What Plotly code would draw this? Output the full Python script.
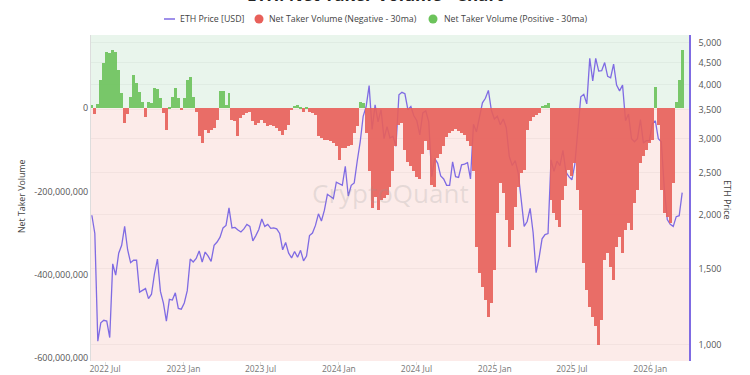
import plotly.graph_objects as go
import pandas as pd

# ---------------- data ----------------
start_date = "2022-05-31"
n_weeks = 199
dates = pd.date_range(start_date, periods=n_weeks, freq="7D")

# Net taker volume (30ma), millions
net_taker_volume_m = [
    8, -15, 10, 68, 108, 136, 132, 139, 134, 92,
    36, -35, -15, 28, 80, 60, 40, 16, -20, 16,
    12, 48, 46, 24, -12, -52, 2, 28, 48, 24,
    -4, 24, 68, 76, 28, -10, -68, -84, -52, -60,
    -52, -48, -28, 42, 42, 8, 36, -28, -32, -68,
    -24, -16, -12, -8, -32, -40, -36, -28, -36, -44,
    -40, -44, -48, -56, -64, -52, -40, -4, 5, 8,
    4, -8, 4, -8, -12, -16, -68, -72, -76, -76,
    -80, -84, -92, -124, -96, -96, -92, -88, -60, -44,
    16, 12, -60, -150, -240, -213, -245, -221, -217, -209,
    -189, -150, -90, -40, -35, -100, -130, -140, -150, -165,
    -170, -110, -80, -100, -185, -190, -120, -110, -90, -70,
    -60, -55, -50, -55, -60, -65, -80, -90, -150, -333,
    -397, -430, -461, -501, -469, -389, -253, -181, -205, -269,
    -333, -293, -237, -189, -156, -148, -52, -32, -20, -16,
    -12, 5, 8, 12, -221, -253, -269, -285, -221, -188,
    -148, -164, -132, -196, -245, -373, -437, -477, -501, -525,
    -570, -509, -365, -349, -381, -413, -333, -309, -349, -293,
    -277, -293, -229, -196, -132, -116, -100, -84, -76, 52,
    -40, -197, -253, -261, -277, -180, 16, 68, 140,
]

# ETH price (USD)
eth_price = [
    1995, 1810, 1020, 1125, 1140, 1135, 1040, 1540, 1450, 1630,
    1700, 1880, 1660, 1550, 1570, 1570, 1325, 1335, 1350, 1280,
    1310, 1460, 1580, 1330, 1250, 1135, 1275, 1270, 1320, 1215,
    1210, 1250, 1335, 1580, 1555, 1585, 1650, 1555, 1640, 1605,
    1560, 1700, 1730, 1775, 1865, 1890, 2075, 1865, 1870, 1845,
    1825, 1855, 1900, 1880, 1740, 1790, 1850, 1955, 1880, 1900,
    1860, 1865, 1855, 1810, 1660, 1725, 1630, 1590, 1645, 1595,
    1655, 1565, 1605, 1790, 1815, 1890, 2010, 1935, 2050, 2230,
    2200, 2180, 2380, 2360, 2340, 2590, 2210, 2340, 2370, 2660,
    2950, 3380, 3560, 3980, 3150, 3590, 3280, 3500, 3000, 3200,
    3010, 3040, 2880, 3790, 3840, 3810, 3500, 3560, 3390, 3300,
    3060, 3440, 3480, 3280, 2450, 2700, 2630, 2460, 2420, 2340,
    2340, 2650, 2450, 2440, 2610, 2620, 2640, 2420, 3240, 3110,
    3330, 3630, 3720, 3880, 3490, 3330, 3380, 3230, 3330, 3180,
    2730, 2600, 2670, 2500, 2170, 1880, 1930, 2070, 1820, 1470,
    1590, 1760, 1800, 1810, 2680, 2520, 2660, 2600, 2820, 2510,
    2450, 2410, 2620, 3130, 3750, 3800, 3610, 4600, 4080, 4600,
    4300, 4310, 4500, 4180, 4150, 4460, 3990, 3870, 3990, 3300,
    3420, 3000, 2950, 3000, 3320, 2930, 2970, 2970, 3250, 3300,
    3000, 2950, 2300, 1950, 1900, 1880, 1980, 1990, 2250,
]

x_tick_vals = ["2022-07-01", "2023-01-01", "2023-07-01", "2024-01-01",
               "2024-07-01", "2025-01-01", "2025-07-01", "2026-01-01"]
x_tick_text = ["2022 Jul", "2023 Jan", "2023 Jul", "2024 Jan",
               "2024 Jul", "2025 Jan", "2025 Jul", "2026 Jan"]
vol_tick_vals = [0, -200e6, -400e6, -600e6]
vol_tick_text = ["0", "-200,000,000", "-400,000,000", "-600,000,000"]
price_tick_vals = [1000, 1500, 2000, 2500, 3000, 3500, 4000, 4500, 5000]
price_tick_text = ["1,000", "1,500", "2,000", "2,500", "3,000", "3,500", "4,000", "4,500", "5,000"]

# ---------------- style ----------------
FONT = "Open Sans"
RED = "#e8605a"
GREEN = "#6cc35b"
PURPLE = "#7f6be3"
BG_POS = "#e9f5ec"
BG_NEG = "#fcebe9"

vol = [v * 1e6 for v in net_taker_volume_m]
neg = [v if v < 0 else None for v in vol]
pos = [v if v >= 0 else None for v in vol]
bar_w = 7 * 86400000

fig = go.Figure()
fig.add_trace(go.Scatter(x=dates, y=eth_price, mode="lines", name="ETH Price [USD]",
                         line=dict(color=PURPLE, width=1.3), yaxis="y", showlegend=False))
fig.add_trace(go.Bar(x=dates, y=neg, width=bar_w, marker=dict(color=RED, line=dict(width=0)),
                     opacity=0.9, name="Net Taker Volume (Negative - 30ma)", yaxis="y2", showlegend=False))
fig.add_trace(go.Bar(x=dates, y=pos, width=bar_w, marker=dict(color=GREEN, line=dict(width=0)),
                     opacity=0.9, name="Net Taker Volume (Positive - 30ma)", yaxis="y2", showlegend=False))

# plot area in page pixels: x 91..689, y 35..361 (page body margin removed)
W, H = 750, 375
L, T = 91, 35
R = W - 689
B = H - 361
PW, PH = W - L - R, H - T - B


def px(xp):
    return (xp - L) / PW


def py(yp):
    return 1 + (T - yp) / PH


shapes = [
    dict(type="rect", xref="paper", yref="y2", x0=0, x1=1, y0=0, y1=300e6,
         fillcolor=BG_POS, line=dict(width=0), layer="below"),
    # legend marks
    dict(type="line", xref="paper", yref="paper", x0=px(164), x1=px(175), y0=py(19), y1=py(19),
         line=dict(color=PURPLE, width=1.5)),
    dict(type="circle", xref="paper", yref="paper", x0=px(254.5), x1=px(263.5), y0=py(23.5), y1=py(14.5),
         fillcolor=RED, line=dict(width=0)),
    dict(type="circle", xref="paper", yref="paper", x0=px(428.5), x1=px(437.5), y0=py(23.5), y1=py(14.5),
         fillcolor=GREEN, line=dict(width=0)),
]

legend_font = dict(family=FONT, size=8.8, color="#444")
annotations = [
    dict(text="<b>ETH: Net Taker Volume - Chart</b>", xref="paper", yref="paper",
         x=px(375), y=py(8.5), xanchor="center", yanchor="bottom", showarrow=False,
         font=dict(family=FONT, size=17, color="#222")),
    dict(text="ETH Price [USD]", xref="paper", yref="paper", x=px(178), y=py(19),
         xanchor="left", yanchor="middle", showarrow=False, font=legend_font),
    dict(text="Net Taker Volume (Negative - 30ma)", xref="paper", yref="paper", x=px(267), y=py(19),
         xanchor="left", yanchor="middle", showarrow=False, font=legend_font),
    dict(text="Net Taker Volume (Positive - 30ma)", xref="paper", yref="paper", x=px(442), y=py(19),
         xanchor="left", yanchor="middle", showarrow=False, font=legend_font),
    dict(text="Net Taker Volume", xref="paper", yref="paper", x=px(22), y=py(197),
         xanchor="center", yanchor="middle", textangle=-90, showarrow=False,
         font=dict(family=FONT, size=8.8, color="#444")),
    dict(text="ETH Price", xref="paper", yref="paper", x=px(728), y=py(200),
         xanchor="center", yanchor="middle", textangle=90, showarrow=False,
         font=dict(family=FONT, size=9, color="#444")),
    dict(text="CryptoQuant", xref="paper", yref="paper", x=px(390), y=py(193),
         xanchor="center", yanchor="middle", showarrow=False,
         font=dict(family=FONT, size=26, color="rgba(150,150,150,0.22)")),
]

fig.update_layout(
    width=W, height=H,
    margin=dict(l=L, r=R, t=T, b=B),
    paper_bgcolor="white",
    plot_bgcolor=BG_NEG,
    barmode="overlay",
    bargap=0,
    showlegend=False,
    shapes=shapes,
    annotations=annotations,
    xaxis=dict(type="date", range=["2022-05-29", "2026-04-02"], tickvals=x_tick_vals,
               ticktext=x_tick_text, showgrid=False, zeroline=False, showline=False,
               ticks="outside", ticklen=3, tickcolor="#e0e0e0", ticklabelstandoff=-3,
               tickfont=dict(family=FONT, size=8.5, color="#777"), automargin=False),
    yaxis=dict(type="log", side="right", range=[2.9628, 3.7169], tickvals=price_tick_vals,
               ticktext=price_tick_text, showgrid=True, gridcolor="rgba(0,0,0,0.035)",
               zeroline=False, showline=True, linecolor=PURPLE, linewidth=1.5,
               tickfont=dict(family=FONT, size=9, color="#555"), automargin=False,
               ticks="", ticklabelstandoff=6),
    yaxis2=dict(overlaying="y", side="left", range=[-608e6, 176e6], tickvals=vol_tick_vals,
                ticktext=vol_tick_text, showgrid=False, zeroline=False, showline=True,
                linecolor="#dddddd", linewidth=1,
                tickfont=dict(family=FONT, size=9, color="#555"), automargin=False, ticks=""),
)

fig.write_html("out.html", config={"displayModeBar": False},
               post_script="document.body.style.margin='0px';")
